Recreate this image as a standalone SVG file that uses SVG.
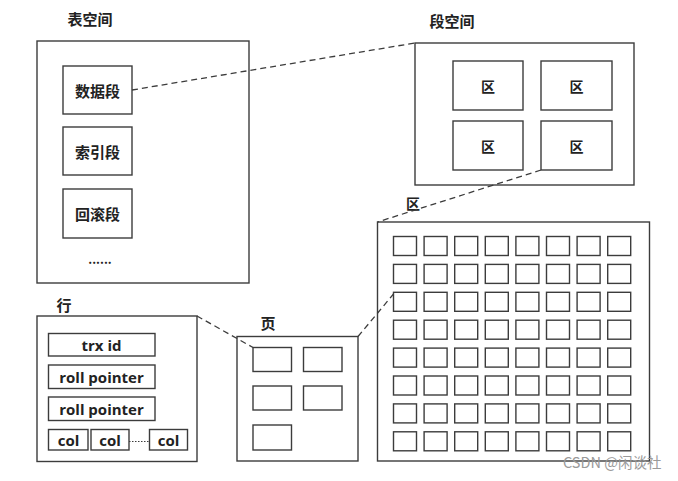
<svg xmlns="http://www.w3.org/2000/svg" width="678" height="481" viewBox="0 0 678 481">
<style>
.b{fill:#fff;stroke:#3c3c3c;stroke-width:1.4}
.c{fill:none;stroke:#3c3c3c;stroke-width:1.4}
.t{font-family:"Noto Sans CJK SC","Noto Sans",sans-serif;font-weight:bold;font-size:15px;fill:#222;text-anchor:middle;dominant-baseline:central}
.s{font-size:14px}
.e{font-family:"Open Sans","Noto Sans",sans-serif;font-weight:bold;font-size:15px;fill:#222;text-anchor:middle;dominant-baseline:central}
.d{fill:none;stroke:#3c3c3c;stroke-width:1.3;stroke-dasharray:6 4}
</style>
<rect width="678" height="481" fill="#fff"/>
<g id="tablespace">
<text class="t" x="90" y="18">表空间</text>
<rect class="b" x="37" y="41" width="212" height="242"/>
<rect class="b" x="63" y="66" width="69" height="48"/>
<text class="t" x="97.5" y="90">数据段</text>
<rect class="b" x="63" y="127" width="69" height="48"/>
<text class="t" x="97.5" y="151">索引段</text>
<rect class="b" x="63" y="189" width="69" height="49"/>
<text class="t" x="97.5" y="213">回滚段</text>
<text class="t" x="100" y="258" style="font-size:12px">......</text>
</g>
<g id="segment">
<text class="t" x="452" y="20">段空间</text>
<rect class="b" x="415" y="43" width="219" height="142"/>
<rect class="b" x="453" y="61" width="70" height="49"/>
<text class="t s" x="488" y="86">区</text>
<rect class="b" x="541" y="61" width="71" height="49"/>
<text class="t s" x="576.5" y="86">区</text>
<rect class="b" x="453" y="121" width="70" height="49"/>
<text class="t s" x="488" y="146">区</text>
<rect class="b" x="541" y="121" width="71" height="49"/>
<text class="t s" x="576.5" y="146">区</text>
</g>
<g id="extent">
<text class="t s" x="413" y="203">区</text>
<rect class="b" x="377.5" y="222" width="272" height="239"/>
<g class="b">
<rect x="393.5" y="236.5" width="23" height="19"/><rect x="424.1" y="236.5" width="23" height="19"/><rect x="454.7" y="236.5" width="23" height="19"/><rect x="485.3" y="236.5" width="23" height="19"/><rect x="515.9" y="236.5" width="23" height="19"/><rect x="546.5" y="236.5" width="23" height="19"/><rect x="577.1" y="236.5" width="23" height="19"/><rect x="607.7" y="236.5" width="23" height="19"/>
<rect x="393.5" y="264.4" width="23" height="19"/><rect x="424.1" y="264.4" width="23" height="19"/><rect x="454.7" y="264.4" width="23" height="19"/><rect x="485.3" y="264.4" width="23" height="19"/><rect x="515.9" y="264.4" width="23" height="19"/><rect x="546.5" y="264.4" width="23" height="19"/><rect x="577.1" y="264.4" width="23" height="19"/><rect x="607.7" y="264.4" width="23" height="19"/>
<rect x="393.5" y="292.3" width="23" height="19"/><rect x="424.1" y="292.3" width="23" height="19"/><rect x="454.7" y="292.3" width="23" height="19"/><rect x="485.3" y="292.3" width="23" height="19"/><rect x="515.9" y="292.3" width="23" height="19"/><rect x="546.5" y="292.3" width="23" height="19"/><rect x="577.1" y="292.3" width="23" height="19"/><rect x="607.7" y="292.3" width="23" height="19"/>
<rect x="393.5" y="320.2" width="23" height="19"/><rect x="424.1" y="320.2" width="23" height="19"/><rect x="454.7" y="320.2" width="23" height="19"/><rect x="485.3" y="320.2" width="23" height="19"/><rect x="515.9" y="320.2" width="23" height="19"/><rect x="546.5" y="320.2" width="23" height="19"/><rect x="577.1" y="320.2" width="23" height="19"/><rect x="607.7" y="320.2" width="23" height="19"/>
<rect x="393.5" y="348.1" width="23" height="19"/><rect x="424.1" y="348.1" width="23" height="19"/><rect x="454.7" y="348.1" width="23" height="19"/><rect x="485.3" y="348.1" width="23" height="19"/><rect x="515.9" y="348.1" width="23" height="19"/><rect x="546.5" y="348.1" width="23" height="19"/><rect x="577.1" y="348.1" width="23" height="19"/><rect x="607.7" y="348.1" width="23" height="19"/>
<rect x="393.5" y="376" width="23" height="19"/><rect x="424.1" y="376" width="23" height="19"/><rect x="454.7" y="376" width="23" height="19"/><rect x="485.3" y="376" width="23" height="19"/><rect x="515.9" y="376" width="23" height="19"/><rect x="546.5" y="376" width="23" height="19"/><rect x="577.1" y="376" width="23" height="19"/><rect x="607.7" y="376" width="23" height="19"/>
<rect x="393.5" y="403.9" width="23" height="19"/><rect x="424.1" y="403.9" width="23" height="19"/><rect x="454.7" y="403.9" width="23" height="19"/><rect x="485.3" y="403.9" width="23" height="19"/><rect x="515.9" y="403.9" width="23" height="19"/><rect x="546.5" y="403.9" width="23" height="19"/><rect x="577.1" y="403.9" width="23" height="19"/><rect x="607.7" y="403.9" width="23" height="19"/>
<rect x="393.5" y="431.8" width="23" height="19"/><rect x="424.1" y="431.8" width="23" height="19"/><rect x="454.7" y="431.8" width="23" height="19"/><rect x="485.3" y="431.8" width="23" height="19"/><rect x="515.9" y="431.8" width="23" height="19"/><rect x="546.5" y="431.8" width="23" height="19"/><rect x="577.1" y="431.8" width="23" height="19"/><rect x="607.7" y="431.8" width="23" height="19"/>
</g>
</g>
<g id="page">
<text class="t" x="268" y="322">页</text>
<rect class="b" x="237" y="336.5" width="121" height="124.5"/>
<rect class="b" x="253" y="347.5" width="38.5" height="24"/>
<rect class="b" x="303.5" y="347.5" width="38.5" height="24"/>
<rect class="b" x="253" y="386" width="38.5" height="24"/>
<rect class="b" x="303.5" y="386" width="38.5" height="24"/>
<rect class="b" x="253" y="425" width="38.5" height="25"/>
</g>
<g id="row">
<text class="t" x="64" y="304">行</text>
<rect class="b" x="37" y="316" width="160" height="145.5"/>
<rect class="b" x="48.5" y="333.5" width="106.5" height="22.5"/>
<text class="e" x="101.5" y="344.5">trx id</text>
<rect class="b" x="48.5" y="365" width="106.5" height="23.5"/>
<text class="e" x="101.5" y="376.5">roll pointer</text>
<rect class="b" x="48.5" y="397" width="106.5" height="23.5"/>
<text class="e" x="101.5" y="408.5">roll pointer</text>
<rect class="b" x="48.5" y="429.5" width="39.5" height="20.5"/>
<text class="e" x="68.5" y="439.5">col</text>
<rect class="b" x="91" y="429.5" width="38" height="20.5"/>
<text class="e" x="110" y="439.5">col</text>
<rect class="b" x="149.5" y="429.5" width="38" height="20.5"/>
<text class="e" x="168.5" y="439.5">col</text>
</g>
<g id="connectors">
<line class="d" x1="132" y1="90" x2="415" y2="43"/>
<line class="d" x1="541" y1="170" x2="377.5" y2="222"/>
<line class="d" x1="358" y1="336.5" x2="393.5" y2="294"/>
<line class="d" x1="197" y1="316" x2="253" y2="347.5"/>
<line x1="129" y1="441.5" x2="149.5" y2="441.5" stroke="#3c3c3c" stroke-width="1.2" stroke-dasharray="1.5 1.5"/>
</g>
<text x="563" y="468" style="font-family:'Noto Sans CJK SC','Noto Sans',sans-serif;font-size:14.5px;fill:#9a9a9a">CSDN @闲谈社</text>
</svg>
